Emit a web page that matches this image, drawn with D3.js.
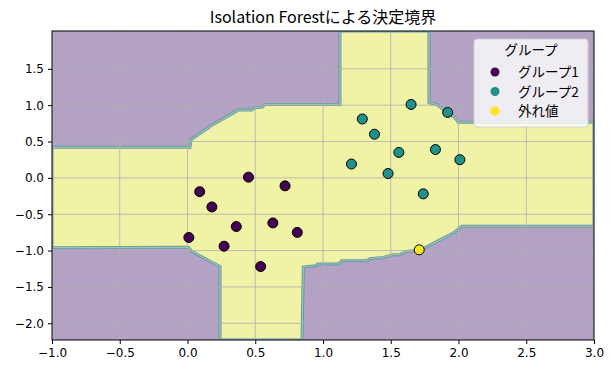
<!DOCTYPE html>
<html>
<head>
<meta charset="utf-8" />
<title>Isolation Forest</title>
<script src="https://d3js.org/d3.v7.min.js"></script>
<style>
  body { margin: 0; background: #fff; }
  .tick text { font-family: "DejaVu Sans", sans-serif; font-size: 12px; fill: #000; }
</style>
</head>
<body>
<script type="text/javascript">
// points
var group1X = [0.45, 0.09, 0.72, 0.18, 0.36, 0.63, 0.01, 0.81, 0.27, 0.54];
var group1Y = [0.01, -0.19, -0.11, -0.40, -0.67, -0.62, -0.82, -0.75, -0.94, -1.22];
var group2X = [1.65, 1.92, 1.29, 1.38, 1.56, 1.83, 2.01, 1.21, 1.48, 1.74];
var group2Y = [1.01, 0.90, 0.81, 0.60, 0.35, 0.39, 0.25, 0.19, 0.06, -0.22];
var outlierX = [1.71];
var outlierY = [-0.99];

// inlier (yellow) region outline, clockwise
var boundaryX = [-1, 0.018, 0.026, 0.154, 0.166, 0.375, 0.474, 0.498, 0.552, 0.572, 1.125, 1.125,
                 1.782, 1.782, 1.839, 1.974, 1.999, 3, 3, 2.024, 1.974, 1.913, 1.740, 1.666,
                 1.618, 1.568, 1.519, 1.445, 1.347, 1.323, 1.138, 1.113, 0.965, 0.941, 0.855,
                 0.845, 0.240, 0.240, 0.031, 0.006, -1];
var boundaryY = [0.42, 0.42, 0.528, 0.689, 0.711, 0.932, 0.932, 0.965, 0.973, 1.01, 1.01, 2.02,
                 2.02, 1.033, 1.01, 0.827, 0.766, 0.766, -0.667, -0.667, -0.744, -0.805, -0.974, -1.002,
                 -1.011, -1.057, -1.057, -1.094, -1.112, -1.14, -1.14, -1.185, -1.185, -1.209, -1.226,
                 -2.23, -2.23, -1.222, -1.011, -0.956, -0.96];

var xTicks = [-1, -0.5, 0, 0.5, 1, 1.5, 2, 2.5, 3];
var yTicks = [-2, -1.5, -1, -0.5, 0, 0.5, 1, 1.5];
var legendLabels = ['グループ1', 'グループ2', '外れ値'];
var legendColors = ['#440154', '#21918c', '#fde725'];

var width = 616, height = 374;
var margin = {top: 31, right: 22, bottom: 34, left: 52};

var x = d3.scaleLinear().domain([-1, 3]).range([margin.left, width - margin.right]);
var y = d3.scaleLinear().domain([-2.23, 2.02]).range([height - margin.bottom, margin.top]);

var svg = d3.select('body').append('svg')
    .attr('width', width)
    .attr('height', height);

svg.append('defs').append('clipPath').attr('id', 'plot')
    .append('rect')
    .attr('x', margin.left).attr('y', margin.top)
    .attr('width', width - margin.left - margin.right)
    .attr('height', height - margin.top - margin.bottom);

var plot = svg.append('g').attr('clip-path', 'url(#plot)');

// outlier region
plot.append('rect')
    .attr('x', x(-1)).attr('y', y(2.02))
    .attr('width', x(3) - x(-1)).attr('height', y(-2.23) - y(2.02))
    .attr('fill', '#b4a2c4');

var pts = boundaryX.map(function (d, i) { return [x(d), y(boundaryY[i])]; });
var line = d3.line();

plot.append('path')
    .attr('d', line(pts) + 'Z')
    .attr('fill', '#f0f2a6')
    .attr('stroke', '#6f8fb8')
    .attr('stroke-width', 3)
    .attr('stroke-linejoin', 'miter');

plot.append('path')
    .attr('d', line(pts) + 'Z')
    .attr('fill', 'none')
    .attr('stroke', '#8fd09a')
    .attr('stroke-width', 1.2);

// grid
plot.selectAll('.gx').data(xTicks).enter().append('line')
    .attr('x1', d => x(d)).attr('x2', d => x(d))
    .attr('y1', margin.top).attr('y2', height - margin.bottom)
    .attr('stroke', '#b0b0b0').attr('stroke-width', 0.8);
plot.selectAll('.gy').data(yTicks).enter().append('line')
    .attr('y1', d => y(d)).attr('y2', d => y(d))
    .attr('x1', margin.left).attr('x2', width - margin.right)
    .attr('stroke', '#b0b0b0').attr('stroke-width', 0.8);

function drawPoints(xs, ys, color) {
    plot.selectAll(null).data(xs).enter().append('circle')
        .attr('cx', d => x(d))
        .attr('cy', (d, i) => y(ys[i]))
        .attr('r', 5)
        .attr('fill', color)
        .attr('stroke', '#000')
        .attr('stroke-width', 1);
}
drawPoints(group1X, group1Y, legendColors[0]);
drawPoints(group2X, group2Y, legendColors[1]);
drawPoints(outlierX, outlierY, legendColors[2]);

// frame
svg.append('rect')
    .attr('x', margin.left).attr('y', margin.top)
    .attr('width', width - margin.left - margin.right)
    .attr('height', height - margin.top - margin.bottom)
    .attr('fill', 'none').attr('stroke', '#000').attr('stroke-width', 1);

svg.append('g')
    .attr('transform', 'translate(0,' + (height - margin.bottom) + ')')
    .call(d3.axisBottom(x).tickValues(xTicks).tickFormat(d3.format('.1f')).tickSize(4).tickPadding(4))
    .call(g => g.select('.domain').remove());

svg.append('g')
    .attr('transform', 'translate(' + margin.left + ',0)')
    .call(d3.axisLeft(y).tickValues(yTicks).tickFormat(d3.format('.1f')).tickSize(4).tickPadding(4))
    .call(g => g.select('.domain').remove());

svg.append('text')
    .attr('x', (margin.left + width - margin.right) / 2)
    .attr('y', 23)
    .attr('text-anchor', 'middle')
    .style('font-family', '"Noto Sans CJK JP", sans-serif')
    .style('font-size', '16px')
    .text('Isolation Forestによる決定境界');

// legend
var lg = svg.append('g').attr('transform', 'translate(474,39)');
lg.append('rect')
    .attr('width', 114).attr('height', 88)
    .attr('rx', 3)
    .attr('fill', '#fff').attr('fill-opacity', 0.8)
    .attr('stroke', '#d0d0d0');
lg.append('text')
    .attr('x', 57).attr('y', 16)
    .attr('text-anchor', 'middle')
    .style('font-family', '"Noto Sans CJK JP", sans-serif')
    .style('font-size', '13.5px')
    .text('グループ');
legendLabels.forEach(function (lab, i) {
    lg.append('circle')
        .attr('cx', 21).attr('cy', 33 + i * 19.5)
        .attr('r', 4.5)
        .attr('fill', legendColors[i]);
    lg.append('text')
        .attr('x', 44).attr('y', 38 + i * 19.5)
        .style('font-family', '"Noto Sans CJK JP", sans-serif')
        .style('font-size', '13.5px')
        .text(lab);
});
</script>
</body>
</html>
